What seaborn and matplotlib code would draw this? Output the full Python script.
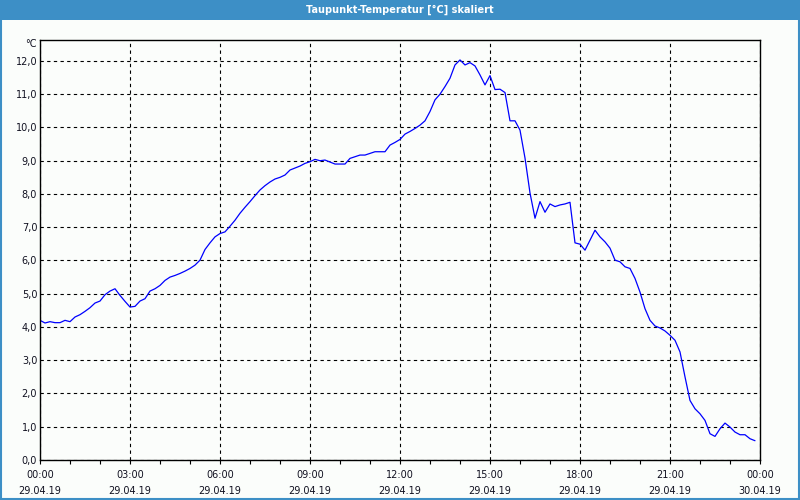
import matplotlib
matplotlib.use("Agg")
import matplotlib.pyplot as plt
from matplotlib.patches import Rectangle
from matplotlib.ticker import MultipleLocator
import pandas as pd
import seaborn as sns


TITLE = "Taupunkt-Temperatur [°C] skaliert"
UNIT = "°C"
BAR_BLUE = "#3d8fc6"
BG = "#fbfdfb"

# dew point every 10 minutes, 29.04.19 00:00 .. 23:50
DEW_POINT = [
    4.20, 4.12, 4.16, 4.13, 4.13, 4.20, 4.16, 4.30, 4.37, 4.47, 4.58, 4.72,
    4.78, 4.97, 5.08, 5.15, 4.95, 4.77, 4.60, 4.62, 4.78, 4.85, 5.08, 5.15,
    5.25, 5.40, 5.50, 5.55, 5.61, 5.68, 5.76, 5.86, 6.01, 6.33, 6.53, 6.71,
    6.81, 6.86, 7.03, 7.21, 7.42, 7.60, 7.77, 7.95, 8.12, 8.25, 8.36, 8.45,
    8.50, 8.57, 8.72, 8.78, 8.84, 8.92, 8.97, 9.04, 9.00, 9.02, 8.96, 8.90,
    8.90, 8.90, 9.07, 9.12, 9.17, 9.17, 9.22, 9.27, 9.27, 9.27, 9.47, 9.55,
    9.64, 9.80, 9.88, 9.97, 10.07, 10.20, 10.48, 10.83, 11.00, 11.23, 11.48, 11.88,
    12.03, 11.88, 11.95, 11.85, 11.58, 11.28, 11.56, 11.14, 11.15, 11.05, 10.20, 10.20,
    9.92, 9.08, 8.03, 7.27, 7.77, 7.45, 7.70, 7.62, 7.67, 7.70, 7.75, 6.53,
    6.49, 6.31, 6.61, 6.91, 6.71, 6.56, 6.37, 6.01, 5.96, 5.81, 5.76, 5.46,
    5.05, 4.55, 4.20, 4.03, 3.97, 3.88, 3.75, 3.60, 3.25, 2.50, 1.79, 1.54,
    1.39, 1.19, 0.79, 0.71, 0.94, 1.11, 0.99, 0.84, 0.76, 0.76, 0.64, 0.58,
]
STEP_MINUTES = 10

X_TICKS = [0, 3, 6, 9, 12, 15, 18, 21, 24]
X_TICK_LABELS = [
    "00:00\n29.04.19", "03:00\n29.04.19", "06:00\n29.04.19",
    "09:00\n29.04.19", "12:00\n29.04.19", "15:00\n29.04.19",
    "18:00\n29.04.19", "21:00\n29.04.19", "00:00\n30.04.19",
]
Y_TICKS = list(range(0, 13))


def main():
    sns.set_style("white")
    plt.rcParams["font.family"] = ["DejaVu Sans"]

    df = pd.DataFrame({
        "hour": [i * STEP_MINUTES / 60 for i in range(len(DEW_POINT))],
        "dew_point": DEW_POINT,
    })

    fig = plt.figure(figsize=(8, 5), dpi=100, facecolor=BG)
    ax = fig.add_axes([0.05, 0.08, 0.90, 0.84])
    ax.set_facecolor(BG)

    sns.lineplot(data=df, x="hour", y="dew_point", ax=ax,
                 color="#0000ff", linewidth=0.9)

    ax.set_xlim(0, 24)
    ax.set_ylim(0, 12.63)
    ax.set_xlabel("")
    ax.set_ylabel("")

    ax.set_xticks(X_TICKS)
    ax.set_xticklabels(X_TICK_LABELS, fontsize=7, color="#101020")
    ax.xaxis.set_minor_locator(MultipleLocator(1))
    for label in ax.get_xticklabels():
        label.set_linespacing(1.75)
    ax.set_yticks(Y_TICKS)
    ax.set_yticklabels([f"{v},0" for v in Y_TICKS], fontsize=7,
                       color="#101020")

    ax.tick_params(axis="x", which="both", direction="out", length=3,
                   width=0.8, color="black", pad=4, bottom=True)
    ax.tick_params(axis="y", length=0, pad=2)

    ax.grid(True, which="major", color="black", linestyle=(0, (3, 3)),
            linewidth=0.8)
    for spine in ax.spines.values():
        spine.set_color("black")
        spine.set_linewidth(1.0)

    fig.text(37 / 800, 1 - 44 / 500, UNIT, ha="right", va="center",
             fontsize=7, color="#101020")

    # title bar and window border
    fig.patches.append(Rectangle((0, 0.96), 1, 0.04, transform=fig.transFigure,
                                 facecolor=BAR_BLUE, edgecolor="none",
                                 zorder=0))
    fig.patches.append(Rectangle((0.001, 0.002), 0.998, 0.996,
                                 transform=fig.transFigure, fill=False,
                                 edgecolor=BAR_BLUE, linewidth=1.5))
    fig.text(0.5, 0.98, TITLE, ha="center", va="center", fontsize=7,
             color="white", fontweight="bold")

    fig.savefig("out.png", dpi=100, facecolor=BG)
    plt.close(fig)


if __name__ == "__main__":
    main()
